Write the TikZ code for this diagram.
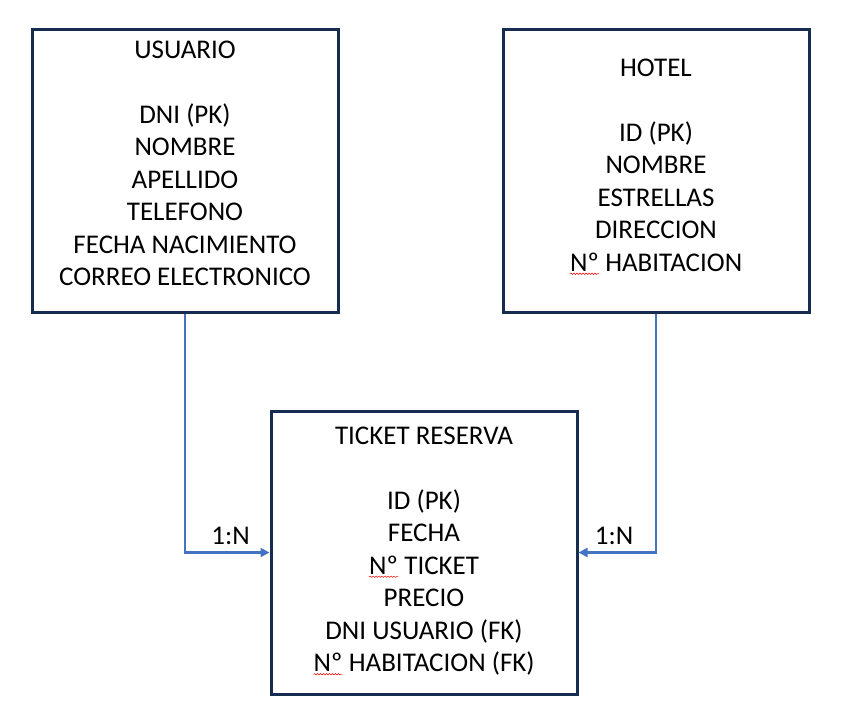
\documentclass[tikz,border=0pt]{standalone}
\usepackage{fontspec}
\setmainfont{Carlito}
\usetikzlibrary{arrows.meta,positioning,decorations.pathmorphing}

\definecolor{boxline}{HTML}{172C51}
\definecolor{linkblue}{HTML}{4472C4}

% red spell-check squiggle under a word
\newcommand{\spellmark}[1]{\tikz[baseline=(w.base)]{\node[inner sep=0pt,outer sep=0pt](w){#1};
  \draw[red,line width=0.5pt,decorate,decoration={snake,amplitude=0.7pt,segment length=3pt}]
    ([yshift=-2.5pt]w.south west) -- ([yshift=-2.5pt]w.south east);}}

\tikzset{
  entity/.style={draw=boxline,line width=3pt,minimum width=306pt,minimum height=283pt,inner sep=0pt},
  fields/.style={align=center,font=\fontsize{27}{32.5}\selectfont,inner sep=0pt,anchor=north},
  link/.style={draw=linkblue,line width=2.5pt,-{Triangle[length=9pt,width=9pt]}},
  card/.style={font=\fontsize{27}{32}\selectfont,inner sep=0pt}
}

\begin{document}
\begin{tikzpicture}[x=1pt,y=-1pt]
  \useasboundingbox (0,0) rectangle (841,724);

  % entities
  \node[entity] (usr) at (185,170.5) {};
  \node[entity] (htl) at (656,170.5) {};
  \node[entity] (tkt) at (424,552.5) {};

  \node[fields] (usrtxt) at ([yshift=-13pt]usr.north)
    {USUARIO\\[32.5pt]DNI (PK)\\NOMBRE\\APELLIDO\\TELEFONO\\FECHA NACIMIENTO\\CORREO ELECTRONICO};
  \node[fields] (htltxt) at ([yshift=-31pt]htl.north)
    {HOTEL\\[32.5pt]ID (PK)\\NOMBRE\\ESTRELLAS\\DIRECCION\\\spellmark{Nº} HABITACION};
  \node[fields] (tkttxt) at ([yshift=-17pt]tkt.north)
    {TICKET RESERVA\\[32.5pt]ID (PK)\\FECHA\\\spellmark{Nº} TICKET\\PRECIO\\DNI USUARIO (FK)\\\spellmark{Nº} HABITACION (FK)};

  % relations
  \draw[link] (usr.south) |- node[card,pos=0.77,above=7pt] (c1) {1:N} (tkt.west);
  \draw[link] (htl.south) |- node[card,pos=0.77,above=7pt] (c2) {1:N} (tkt.east);
\end{tikzpicture}
\end{document}
